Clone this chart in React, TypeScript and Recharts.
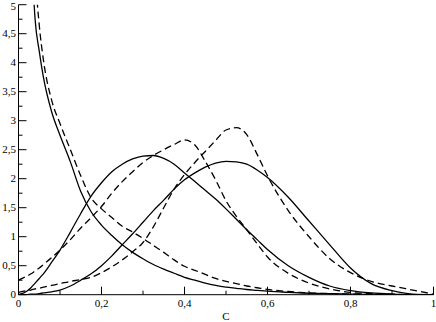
import { LineChart, Line, XAxis, YAxis } from 'recharts';

// concentration grid shared by all curves
const cGrid = [0, 0.02, 0.03, 0.04, 0.05, 0.06, 0.08, 0.1, 0.125, 0.15, 0.175, 0.2, 0.225, 0.25, 0.275, 0.3, 0.325, 0.35, 0.375, 0.4, 0.425, 0.45, 0.475, 0.5, 0.525, 0.55, 0.575, 0.6, 0.65, 0.7, 0.75, 0.8, 0.85, 0.9, 0.95, 1];

const decaySolid = [null, 9.0, 6.2, 4.75, 4.2, 3.75, 3.15, 2.75, 2.29, 1.78, 1.43, 1.2, 1.02, 0.86, 0.73, 0.62, 0.52, 0.44, 0.37, 0.3, 0.25, 0.2, 0.16, 0.13, 0.11, 0.09, 0.075, 0.06, 0.04, 0.025, 0.016, 0.01, 0.005, 0.003, 0.001, 0];
const decayDashed = [null, 10, 7.5, 5.6, 4.65, 4.05, 3.35, 2.95, 2.5, 2.05, 1.67, 1.48, 1.33, 1.18, 1.08, 0.97, 0.85, 0.73, 0.6, 0.49, 0.42, 0.35, 0.28, 0.23, 0.19, 0.15, 0.12, 0.09, 0.055, 0.03, 0.02, 0.01, 0.005, 0, 0, 0];
const leftSolid = [0, 0.06, 0.12, 0.2, 0.28, 0.36, 0.56, 0.77, 1.08, 1.4, 1.7, 1.93, 2.12, 2.25, 2.34, 2.39, 2.4, 2.35, 2.25, 2.1, 1.95, 1.8, 1.65, 1.48, 1.3, 1.12, 0.95, 0.78, 0.5, 0.3, 0.15, 0.07, 0.03, 0.01, 0, 0];
const leftDashed = [0.25, 0.32, 0.36, 0.41, 0.46, 0.52, 0.64, 0.77, 0.95, 1.15, 1.33, 1.52, 1.75, 1.95, 2.12, 2.28, 2.4, 2.5, 2.59, 2.67, 2.58, 2.3, 1.98, 1.62, 1.35, 1.12, 0.88, 0.65, 0.37, 0.2, 0.1, 0.04, 0.02, 0.01, 0, 0];
const rightSolid = [0, 0, 0.01, 0.01, 0.02, 0.03, 0.05, 0.08, 0.15, 0.25, 0.36, 0.5, 0.67, 0.86, 1.05, 1.25, 1.45, 1.63, 1.82, 1.98, 2.1, 2.2, 2.27, 2.3, 2.29, 2.25, 2.15, 2.02, 1.68, 1.27, 0.86, 0.46, 0.19, 0.07, 0.01, 0];
const rightDashed = [0.04, 0.07, 0.08, 0.1, 0.11, 0.13, 0.16, 0.19, 0.23, 0.26, 0.3, 0.38, 0.48, 0.6, 0.74, 0.9, 1.17, 1.5, 1.82, 2.07, 2.28, 2.47, 2.66, 2.84, 2.88, 2.76, 2.42, 2.05, 1.45, 1.0, 0.62, 0.38, 0.23, 0.15, 0.08, 0.01];

const xTicks = [0, 0.1, 0.2, 0.3, 0.4, 0.5, 0.6, 0.7, 0.8, 0.9, 1];
const yTicks = [0, 0.25, 0.5, 0.75, 1, 1.25, 1.5, 1.75, 2, 2.25, 2.5, 2.75, 3, 3.25, 3.5, 3.75, 4, 4.25, 4.5, 4.75, 5];

const data = cGrid.map((c, i) => ({
  c,
  s1: decaySolid[i],
  d1: decayDashed[i],
  s2: leftSolid[i],
  d2: leftDashed[i],
  s3: rightSolid[i],
  d3: rightDashed[i],
}));

const FONT = 'Liberation Serif';
const fmt = (v: number) => String(v).replace('.', ',');
const xMajor = (v: number) => Math.round(v * 10) % 2 === 0;
const yMajor = (v: number) => Math.round(v * 4) % 2 === 0;

const BottomTick = (p: any) => {
  const v = p.payload.value;
  const major = xMajor(v);
  return (
    <g>
      <line x1={p.x} y1={p.y} x2={p.x} y2={p.y - (major ? 8 : 4)} stroke="#000" />
      {major && (
        <text x={p.x} y={p.y + 12.5} textAnchor="middle" fontFamily={FONT} fontSize={11} fill="#000">
          {fmt(v)}
        </text>
      )}
    </g>
  );
};

const TopTick = (p: any) => {
  const major = xMajor(p.payload.value);
  return <line x1={p.x} y1={p.y} x2={p.x} y2={p.y + (major ? 8 : 4)} stroke="#000" />;
};

const LeftTick = (p: any) => {
  const v = p.payload.value;
  const major = yMajor(v);
  return (
    <g>
      <line x1={p.x} y1={p.y} x2={p.x + (major ? 8 : 4)} y2={p.y} stroke="#000" />
      {major && (
        <text x={p.x - 2.5} y={p.y + 3.7 + (v === 5 ? 2 : 0)} textAnchor="end" fontFamily={FONT} fontSize={11} fill="#000">
          {fmt(v)}
        </text>
      )}
    </g>
  );
};

const RightTick = (p: any) => {
  const major = yMajor(p.payload.value);
  return <line x1={p.x} y1={p.y} x2={p.x - (major ? 8 : 4)} y2={p.y} stroke="#000" />;
};

export default function App() {
  return (
    <div style={{ width: 436, height: 322, background: '#fff' }}>
      <style>{'body{margin:0} svg text{font-family:"Liberation Serif","Times New Roman",serif !important}'}</style>
      <LineChart width={436} height={322} data={data} margin={{ top: 4.7, right: 2.5, bottom: 0, left: 0 }}>
        <XAxis
          dataKey="c"
          type="number"
          domain={[0, 1]}
          ticks={xTicks}
          interval={0}
          height={27.3}
          tickSize={0}
          tickMargin={0}
          tickLine={false}
          tick={BottomTick}
          axisLine={{ stroke: '#000' }}
          label={{ value: 'C', position: 'insideBottom', offset: 2, fontFamily: FONT, fontSize: 11, fill: '#000' }}
        />
        <XAxis
          xAxisId="top"
          orientation="top"
          dataKey="c"
          type="number"
          domain={[0, 1]}
          ticks={xTicks}
          interval={0}
          height={0}
          tickSize={0}
          tickMargin={0}
          tickLine={false}
          tick={TopTick}
          axisLine={{ stroke: '#000' }}
        />
        <YAxis
          type="number"
          domain={[0, 5]}
          allowDataOverflow
          ticks={yTicks}
          interval={0}
          width={18.5}
          tickSize={0}
          tickMargin={0}
          tickLine={false}
          tick={LeftTick}
          axisLine={{ stroke: '#000' }}
        />
        <YAxis
          yAxisId="right"
          orientation="right"
          type="number"
          domain={[0, 5]}
          allowDataOverflow
          ticks={yTicks}
          interval={0}
          width={0}
          tickSize={0}
          tickMargin={0}
          tickLine={false}
          tick={RightTick}
          axisLine={{ stroke: '#000' }}
        />
        <Line type="monotone" dataKey="s1" stroke="#000" strokeWidth={1.3} dot={false} isAnimationActive={false} />
        <Line type="monotone" dataKey="d1" stroke="#000" strokeWidth={1.3} strokeDasharray="7 4" dot={false} isAnimationActive={false} />
        <Line type="monotone" dataKey="s2" stroke="#000" strokeWidth={1.3} dot={false} isAnimationActive={false} />
        <Line type="monotone" dataKey="d2" stroke="#000" strokeWidth={1.3} strokeDasharray="7 4" dot={false} isAnimationActive={false} />
        <Line type="monotone" dataKey="s3" stroke="#000" strokeWidth={1.3} dot={false} isAnimationActive={false} />
        <Line type="monotone" dataKey="d3" stroke="#000" strokeWidth={1.3} strokeDasharray="7 4" dot={false} isAnimationActive={false} />
      </LineChart>
    </div>
  );
}
